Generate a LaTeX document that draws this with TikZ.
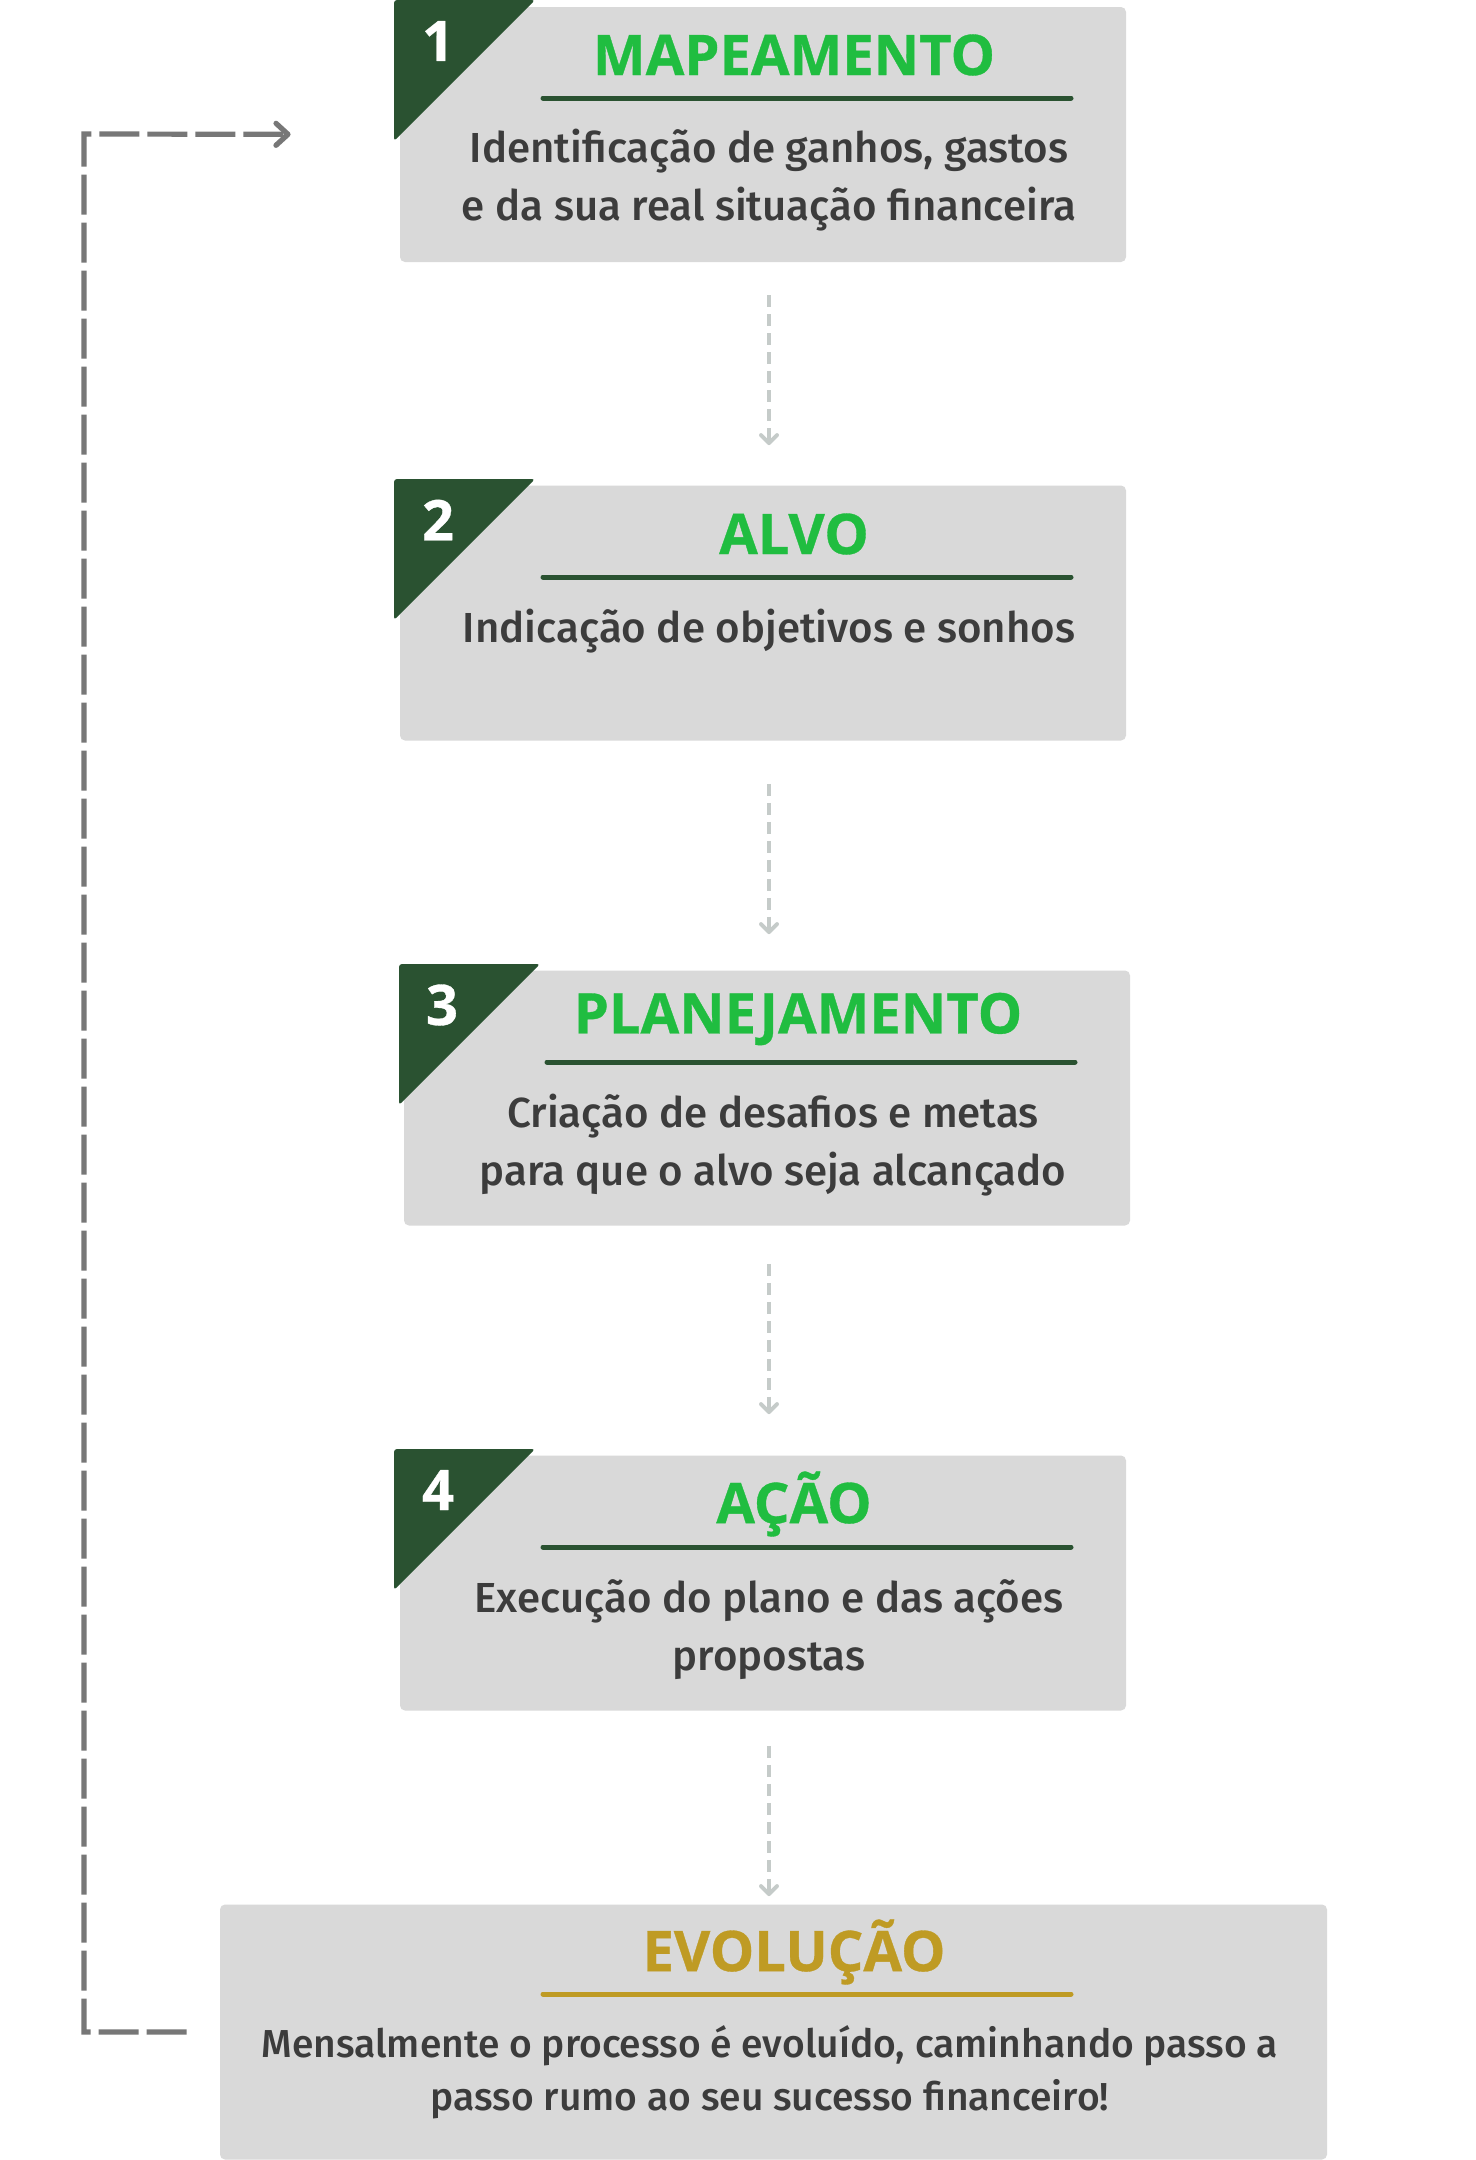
\documentclass[tikz,border=0pt]{standalone}
\usepackage{fontspec}
\setmainfont{Fira Sans Medium}
\newfontfamily\headfont{Open Sans}[BoldFeatures={FakeBold=0.6}]
\usetikzlibrary{arrows.meta,positioning,calc}
\usepackage{xcolor}

\definecolor{boxgray}{HTML}{D9D9D9}
\definecolor{darkgreen}{HTML}{2A5231}
\definecolor{titlegreen}{HTML}{20BD40}
\definecolor{gold}{HTML}{BF9B24}
\definecolor{textgray}{HTML}{3C3C3C}
\definecolor{loopgray}{HTML}{777777}
\definecolor{arrowgray}{HTML}{C5CBC9}

\tikzset{
  stepbox/.style={fill=boxgray, rounded corners=2.5pt, inner sep=0pt,
    minimum width=363pt, minimum height=127.5pt},
  corner/.style={fill=darkgreen, rounded corners=1.5pt},
  stepnum/.style={text=white, font=\headfont\bfseries\fontsize{28}{28}\selectfont},
  steptitle/.style={text=titlegreen, font=\headfont\bfseries\fontsize{28}{28}\selectfont},
  titleline/.style={line width=2.5pt, line cap=round, darkgreen},
  stepbody/.style={text=textgray, align=center, font=\fontsize{21}{29}\selectfont},
  flowarrow/.style={arrowgray, line width=2pt, dash pattern=on 6pt off 3.5pt,
    -{Straight Barb[length=4pt, width=8pt, line cap=round, line join=round]}},
  feedback/.style={loopgray, line width=2.6pt, dash pattern=on 20pt off 4pt,
    -{Straight Barb[length=6pt, width=11pt, line cap=round, line join=round]}}
}

\begin{document}
\begin{tikzpicture}[x=0.5pt, y=-0.5pt]
  % Canvas
  \fill[white] (0,0) rectangle (1476,2160);

  % Step 1
  \node[stepbox] (map) at (763,134.5) {};
  \fill[corner] (394,0) -- (535,0) -- (394,141) -- cycle;
  \node[stepnum] (n1) at (438,41) {1};
  \node[steptitle] (t1) at (794,55) {MAPEAMENTO};
  \draw[titleline] (543,98) -- (1071,98);
  \node[stepbody] (b1) at (769,180) {Identificação de ganhos, gastos\\e da sua real situação financeira};

  % Step 2
  \node[stepbox] (alvo) at (763,613) {};
  \fill[corner] (394,479) -- (535,479) -- (394,620) -- cycle;
  \node[stepnum] (n2) at (438,520) {2};
  \node[steptitle] (t2) at (794,534) {ALVO};
  \draw[titleline] (543,577) -- (1071,577);
  \node[stepbody] (b2) at (769,631) {Indicação de objetivos e sonhos};

  % Step 3
  \node[stepbox] (plan) at (767,1098) {};
  \fill[corner] (399,964) -- (540,964) -- (399,1105) -- cycle;
  \node[stepnum] (n3) at (442,1005) {3};
  \node[steptitle] (t3) at (798,1019) {PLANEJAMENTO};
  \draw[titleline] (547,1062) -- (1075,1062);
  \node[stepbody] (b3) at (773,1145) {Criação de desafios e metas\\para que o alvo seja alcançado};

  % Step 4
  \node[stepbox] (acao) at (763,1583) {};
  \fill[corner] (394,1449) -- (535,1449) -- (394,1590) -- cycle;
  \node[stepnum] (n4) at (438,1490) {4};
  \node[steptitle] (t4) at (794,1504) {AÇÃO};
  \draw[titleline] (543,1547) -- (1071,1547);
  \node[stepbody] (b4) at (769,1630) {Execução do plano e das ações\\propostas};

  % Evolution
  \node[stepbox, minimum width=553.5pt] (evo) at (773.5,2032) {};
  \node[steptitle, text=gold] (t5) at (794,1952) {EVOLUÇÃO};
  \draw[titleline, gold] (543,1994) -- (1071,1994);
  \node[stepbody, font=\fontsize{19.5}{26.5}\selectfont] (b5) at (770,2072) {Mensalmente o processo é evoluído, caminhando passo a\\passo rumo ao seu sucesso financeiro!};

  % Flow arrows
  \draw[flowarrow, shorten <=16.5pt, shorten >=20pt] (map.south -| b1.center) -- (alvo.north -| b1.center);
  \draw[flowarrow, shorten <=21.5pt, shorten >=18pt] (alvo.south -| b1.center) -- (plan.north -| b1.center);
  \draw[flowarrow, shorten <=19pt, shorten >=20.5pt] (plan.south -| b1.center) -- (acao.north -| b1.center);
  \draw[flowarrow, shorten <=17.5pt, shorten >=4pt] (acao.south -| b1.center) -- (evo.north -| b1.center);

  % Monthly loop back
  \coordinate (bend) at (84,134);
  \draw[feedback, shorten <=16.5pt, shorten >=54.5pt] (evo.west) -| (bend) -- (map.west);
\end{tikzpicture}
\end{document}
